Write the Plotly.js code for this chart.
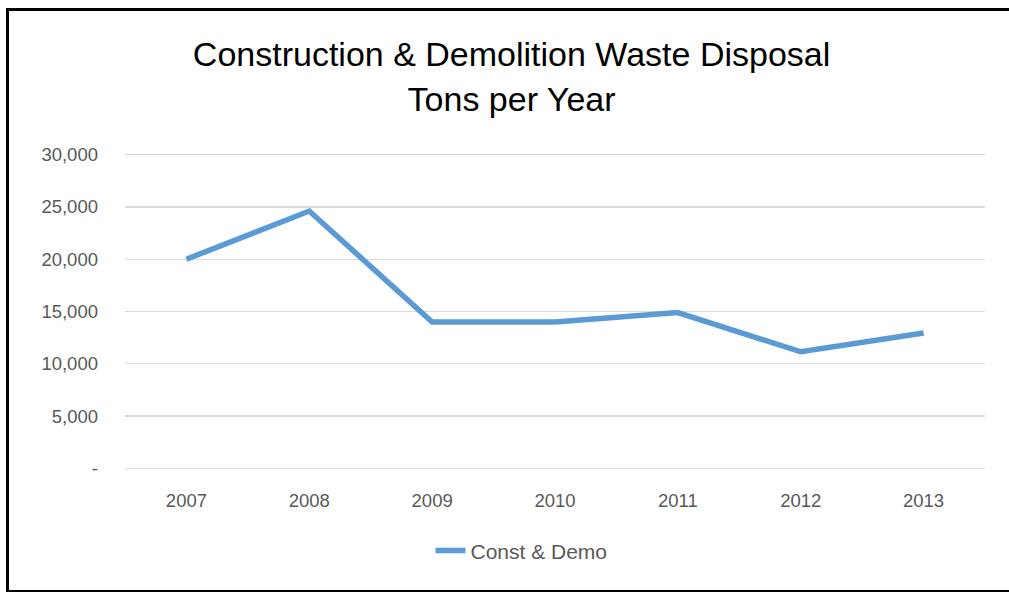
<!DOCTYPE html>
<html>
<head>
<meta charset="utf-8">
<script src="https://cdn.plot.ly/plotly-3.0.1.min.js"></script>
<style>
html,body{margin:0;padding:0;background:#fff;overflow:hidden;}
#chart{position:absolute;left:0;top:0;width:1009px;height:592px;}
#frame{position:absolute;left:6px;top:8px;width:1020px;height:579px;border:3px solid #000;pointer-events:none;}
</style>
</head>
<body>
<div id="chart"></div>
<div id="frame"></div>
<script>
const years = ['2007','2008','2009','2010','2011','2012','2013'];
const tons = [20000, 24600, 14000, 14000, 14900, 11150, 12950];
const yTickVals = [0, 5000, 10000, 15000, 20000, 25000, 30000];
const yTickText = ['-', '5,000', '10,000', '15,000', '20,000', '25,000', '30,000'];
const seriesName = 'Const & Demo';
const titleText = 'Construction & Demolition Waste Disposal<br>Tons per Year';

const font = 'Liberation Sans, Arial, sans-serif';

Plotly.newPlot('chart', [{
  x: years,
  y: tons,
  type: 'scatter',
  mode: 'lines',
  name: seriesName,
  line: {color: '#5b9bd5', width: 5.5}
}], {
  width: 1009,
  height: 592,
  paper_bgcolor: '#fff',
  plot_bgcolor: '#fff',
  margin: {l: 125, r: 24, t: 153.4, b: 122.4, autoexpand: false},
  font: {family: font, color: '#595959', size: 18},
  title: {
    text: titleText,
    font: {family: font, size: 34, color: '#000'},
    x: 0.507, xanchor: 'center',
    y: 0.888, yref: 'container', yanchor: 'top'
  },
  showlegend: true,
  legend: {
    orientation: 'h',
    x: 0.461, xanchor: 'center',
    y: -0.255, yanchor: 'middle',
    font: {family: font, size: 21, color: '#595959'}
  },
  xaxis: {
    type: 'category',
    range: [-0.5, 6.5],
    showgrid: false,
    zeroline: false,
    showline: false,
    ticks: '',
    ticklabelstandoff: 17,
    tickfont: {family: font, size: 18.5, color: '#595959'}
  },
  yaxis: {
    range: [-150, 30150],
    tickvals: yTickVals,
    ticktext: yTickText,
    showgrid: true,
    gridcolor: '#d9d9d9',
    gridwidth: 1.3,
    zeroline: false,
    showline: false,
    ticks: '',
    ticklabelstandoff: 26,
    tickfont: {family: font, size: 18.5, color: '#595959'}
  }
}, {displayModeBar: false, staticPlot: true});
</script>
</body>
</html>
